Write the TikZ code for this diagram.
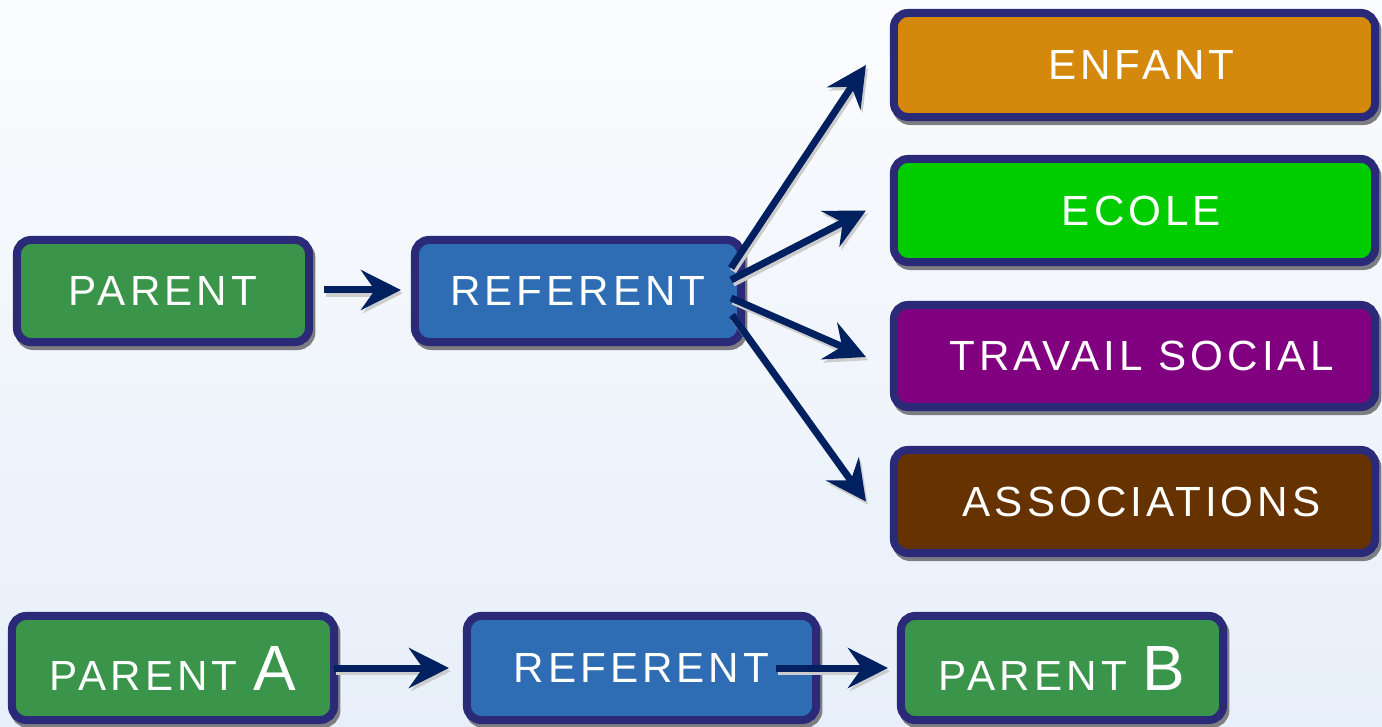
\documentclass[tikz,border=0pt]{standalone}
\usepackage{fontspec}
\newfontfamily\lbl[LetterSpace=9.5]{Liberation Sans}
\usetikzlibrary{arrows.meta,calc}
\definecolor{bord}{RGB}{43,42,120}
\definecolor{pgreen}{RGB}{58,148,74}
\definecolor{pblue}{RGB}{46,108,180}
\definecolor{porange}{RGB}{212,137,13}
\definecolor{plime}{RGB}{0,204,0}
\definecolor{ppurple}{RGB}{128,0,128}
\definecolor{pbrown}{RGB}{102,51,0}
\definecolor{arrowc}{RGB}{0,32,96}
\definecolor{shadowc}{RGB}{125,125,130}
\definecolor{bgtop}{RGB}{251,252,254}
\definecolor{bgbot}{RGB}{231,239,250}
\newcommand\conn[2]{\draw[arrsh] (#1) -- (#2); \draw[arr] (#1) -- (#2);}
\begin{document}
\begin{tikzpicture}[x=0.025cm,y=-0.025cm,
  box/.style={draw=bord, line width=0.2cm, rounded corners=0.35cm, text=white,
    font=\lbl\fontsize{30}{36}\selectfont, inner sep=0pt,
    preaction={draw=shadowc, fill=shadowc, transform canvas={shift={(0.06cm,-0.1cm)}}}},
  arr/.style={draw=arrowc, line width=0.175cm, -{Stealth[length=1cm,width=1cm,inset=0.35cm]}},
  arrsh/.style={draw=black!20, line width=0.175cm, -{Stealth[length=1cm,width=1cm,inset=0.35cm]},
    transform canvas={shift={(0.05cm,-0.08cm)}}}
]
\useasboundingbox (0,0) rectangle (1382,727);
\fill[top color=bgtop, bottom color=bgbot] (0,0) rectangle (1382,727);

% top row
\node[box, fill=pgreen, minimum width=7.3cm, minimum height=2.55cm] (par) at (163,291) {PARENT};
\node[box, fill=pblue, minimum width=8.15cm, minimum height=2.55cm] (ref) at (578,291) {REFERENT};

% right column
\node[box, fill=porange, minimum width=12.025cm, minimum height=2.6cm] (enf) at (1134.5,65) {\hspace*{0.35cm}ENFANT};
\node[box, fill=plime, minimum width=12.025cm, minimum height=2.575cm] (eco) at (1134.5,210.5) {\hspace*{0.35cm}ECOLE};
\node[box, fill=ppurple, minimum width=12.025cm, minimum height=2.55cm] (tra) at (1134.5,356) {\hspace*{0.35cm}TRAVAIL SOCIAL};
\node[box, fill=pbrown, minimum width=12.025cm, minimum height=2.575cm] (ass) at (1134.5,501.5) {\hspace*{0.35cm}ASSOCIATIONS};

% bottom row
\node[box, fill=pgreen, minimum width=8.05cm, minimum height=2.6cm] (pa) at (173,668) {PARENT {\fontsize{45.5}{50}\selectfont A}};
\node[box, fill=pblue, minimum width=8.725cm, minimum height=2.6cm] (ref2) at (641.5,668) {REFERENT};
\node[box, fill=pgreen, minimum width=8.05cm, minimum height=2.6cm] (pb) at (1062,668) {PARENT {\fontsize{45.5}{50}\selectfont B}};

% connector end points
\coordinate (a0) at ($(par.east)+(11,-1)$);
\coordinate (b0) at ($(ref.west)+(-10,-1)$);
\coordinate (s1) at ($(ref.east)+(-14,-23)$);
\coordinate (s2) at ($(ref.east)+(-14,-11)$);
\coordinate (s3) at ($(ref.east)+(-14,7)$);
\coordinate (s4) at ($(ref.east)+(-13,24)$);
\coordinate (e1) at ($(enf.west)+(-24,0)$);
\coordinate (e2) at ($(eco.west)+(-24,0)$);
\coordinate (e3) at ($(tra.west)+(-24,1)$);
\coordinate (e4) at ($(ass.west)+(-24,0)$);
\coordinate (a5) at ($(pa.east)+(-4,0)$);
\coordinate (b5) at ($(ref2.west)+(-14,0)$);
\coordinate (a6) at ($(ref2.east)+(-44,0)$);
\coordinate (b6) at ($(pb.west)+(-9,0)$);

\conn{a0}{b0}
\conn{s1}{e1}
\conn{s2}{e2}
\conn{s3}{e3}
\conn{s4}{e4}
\conn{a5}{b5}
\conn{a6}{b6}
\end{tikzpicture}
\end{document}
